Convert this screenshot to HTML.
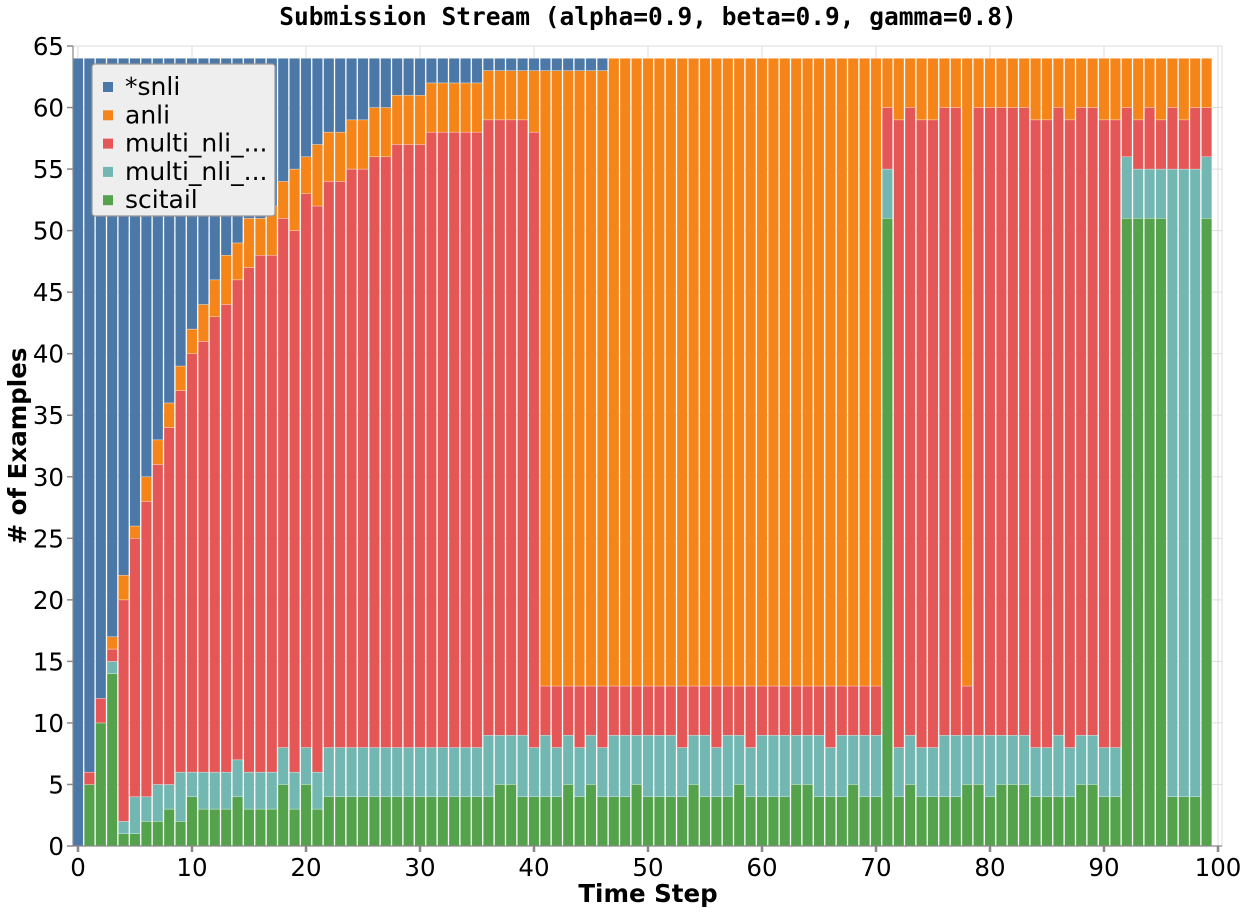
<!DOCTYPE html>
<html><head><meta charset="utf-8">
<style>
html,body{margin:0;padding:0;background:#fff;}
svg{display:block;font-family:"DejaVu Sans","Liberation Sans",sans-serif;}
</style></head>
<body>
<svg id="chart" width="1247" height="912" viewBox="0 0 1247 912" xmlns="http://www.w3.org/2000/svg">
  <text x="648" y="25" text-anchor="middle" font-family="'DejaVu Sans Mono','Liberation Mono',monospace" font-weight="bold" font-size="24.5" fill="#000">Submission Stream (alpha=0.9, beta=0.9, gamma=0.8)</text>
  <g id="grid"></g>
  <g id="bars"></g>
  <g id="axes"></g>
  <text x="648" y="902" text-anchor="middle" font-weight="bold" font-size="24.5" fill="#000">Time Step</text>
  <text transform="translate(26,446) rotate(-90)" text-anchor="middle" font-weight="bold" font-size="24.5" fill="#000"># of Examples</text>
  <g id="legend">
    <rect x="92" y="64" width="183" height="152" rx="3" fill="#eeeeee" stroke="#999" stroke-width="1.2"/>
  </g>
</svg>
<script>
const scitail=[0,5,10,14,1,1,2,2,3,2,4,3,3,3,4,3,3,3,5,3,5,3,4,4,4,4,4,4,4,4,4,4,4,4,4,4,4,5,5,4,4,4,4,5,4,5,4,4,4,5,4,4,4,4,5,4,4,4,5,4,4,4,4,5,5,4,4,4,5,4,4,51,4,5,4,4,4,4,5,5,4,5,5,5,4,4,4,4,5,5,4,4,51,51,51,51,4,4,4,51];
const mnli2=[0,0,0,1,1,3,2,3,2,4,2,3,3,3,3,3,3,3,3,3,3,3,4,4,4,4,4,4,4,4,4,4,4,4,4,4,5,4,4,5,4,5,4,4,4,4,4,5,5,4,5,5,5,4,4,5,4,5,4,4,5,5,5,4,4,5,4,5,4,5,5,4,4,4,4,4,5,5,4,4,5,4,4,4,4,4,5,4,4,4,4,4,5,4,4,4,51,51,51,5];
const mnli=[0,1,2,1,18,21,24,26,29,31,34,35,37,38,39,41,42,42,43,44,45,46,46,46,47,47,48,48,49,49,49,50,50,50,50,50,50,50,50,50,50,4,5,4,5,4,5,4,4,4,4,4,4,5,4,4,5,4,4,5,4,4,4,4,4,4,5,4,4,4,4,5,51,51,51,51,51,51,4,51,51,51,51,51,51,51,51,51,51,51,51,51,4,4,5,4,5,4,5,4];
const anli=[0,0,0,1,2,1,2,2,2,2,2,3,3,4,3,4,3,4,3,5,3,5,4,4,4,4,4,4,4,4,4,4,4,4,4,4,4,4,4,4,5,50,50,50,50,50,50,51,51,51,51,51,51,51,51,51,51,51,51,51,51,51,51,51,51,51,51,51,51,51,51,4,5,4,5,5,4,4,51,4,4,4,4,4,5,5,4,5,4,4,5,5,4,5,4,5,4,5,4,4];
const snli=[64,58,52,47,42,38,34,31,28,25,22,20,18,16,15,13,13,12,10,9,8,7,6,6,5,5,4,4,3,3,3,2,2,2,2,2,1,1,1,1,1,1,1,1,1,1,1,0,0,0,0,0,0,0,0,0,0,0,0,0,0,0,0,0,0,0,0,0,0,0,0,0,0,0,0,0,0,0,0,0,0,0,0,0,0,0,0,0,0,0,0,0,0,0,0,0,0,0,0,0];
const yTicks=[0,5,10,15,20,25,30,35,40,45,50,55,60,65];
const xTicks=[0,10,20,30,40,50,60,70,80,90,100];
const seriesNames=["*snli","anli","multi_nli_...","multi_nli_...","scitail"];

const NS="http://www.w3.org/2000/svg";
const colors={scitail:"#54a24b",mnli2:"#72b7b2",mnli:"#e45756",anli:"#f58518",snli:"#4c78a8"};
const X0=78,XS=11.4,Y0=846,YS=800/65,L=73,R=1222,T=46;
const xs=v=>X0+v*XS, ys=v=>Y0-v*YS;
function mk(tag,attrs,parent){const e=document.createElementNS(NS,tag);for(const k in attrs)e.setAttribute(k,attrs[k]);parent.appendChild(e);return e;}
const grid=document.getElementById('grid'),bars=document.getElementById('bars'),axes=document.getElementById('axes'),legend=document.getElementById('legend');
mk('rect',{x:L,y:T,width:R-L,height:Y0-T,fill:'none',stroke:'#ddd'},grid);
yTicks.forEach(t=>{const l=mk('line',{x1:L,x2:R,y1:ys(t),y2:ys(t),stroke:'#ddd','stroke-width':1},grid);

});
xTicks.forEach(t=>{const l=mk('line',{x1:xs(t),x2:xs(t),y1:T,y2:Y0,stroke:'#ddd','stroke-width':1},grid);

});
const order=[["scitail",scitail],["mnli2",mnli2],["mnli",mnli],["anli",anli],["snli",snli]];
for(let i=0;i<scitail.length;i++){let base=0;
  order.forEach(([name,arr])=>{const v=arr[i];if(v>0){
    const r=mk('rect',{x:xs(i)-5.2,y:ys(base+v),width:10.4,height:v*YS,fill:colors[name],stroke:'#fff','stroke-width':0.5,'stroke-opacity':0.6},bars);
    
    }
    base+=v;});}
mk('line',{x1:L,x2:L,y1:T,y2:Y0,stroke:'#888','stroke-width':1.2},axes);
mk('line',{x1:L,x2:R,y1:Y0,y2:Y0,stroke:'#888','stroke-width':1.2},axes);
yTicks.forEach(t=>{mk('line',{x1:L-6,x2:L,y1:ys(t),y2:ys(t),stroke:'#888','stroke-width':1.5},axes);
  const tx=mk('text',{x:L-9,y:ys(t)+9,'text-anchor':'end','font-size':24.5,fill:'#000'},axes);tx.textContent=t;
  
  });
xTicks.forEach(t=>{mk('line',{x1:xs(t),x2:xs(t),y1:Y0,y2:Y0+6,stroke:'#888','stroke-width':2.5},axes);
  const tx=mk('text',{x:xs(t),y:Y0+30,'text-anchor':'middle','font-size':24.5,fill:'#000'},axes);tx.textContent=t;
  
  });
const legCols=[colors.snli,colors.anli,colors.mnli,colors.mnli2,colors.scitail];
seriesNames.forEach((n,k)=>{const y=86+k*28.3;
  const g=mk('g',{},legend);
  
  
  mk('rect',{x:103,y:y-4,width:10,height:10,fill:legCols[k]},g);
  const tx=mk('text',{x:125,y:y+9,'font-size':25,fill:'#000'},g);tx.textContent=n;});
</script>
</body></html>
